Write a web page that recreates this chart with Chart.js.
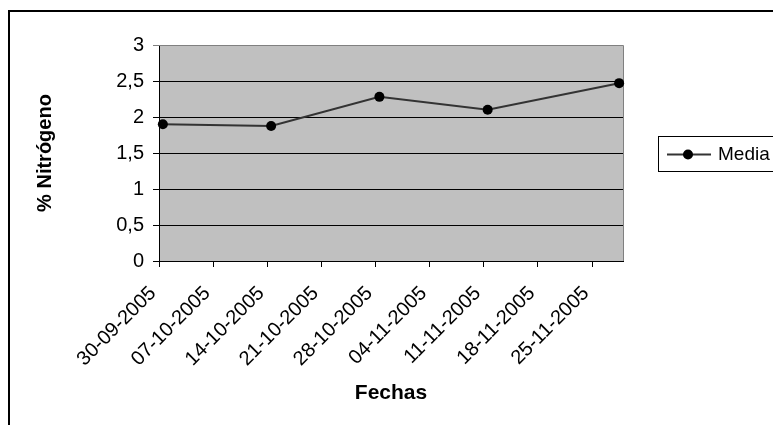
<!DOCTYPE html>
<html>
<head>
<meta charset="utf-8">
<script src="https://cdn.jsdelivr.net/npm/chart.js@4/dist/chart.umd.min.js"></script>
<style>
  html, body { margin: 0; padding: 0; background: #ffffff; }
  #wrap { width: 773px; height: 425px; position: relative; }
</style>
</head>
<body>
<div id="wrap"><canvas id="c" width="773" height="425"></canvas></div>
<script>
// ---- data ----
const seriesName = 'Media';
const sampleDates = ['30-09-2005', '14-10-2005', '28-10-2005', '11-11-2005', '28-11-2005'];
const mediaValues = [1.90, 1.875, 2.28, 2.10, 2.47];
const xTickLabels = ['30-09-2005', '07-10-2005', '14-10-2005', '21-10-2005', '28-10-2005',
                     '04-11-2005', '11-11-2005', '18-11-2005', '25-11-2005'];
const yTickValues = [0, 0.5, 1, 1.5, 2, 2.5, 3];
const xAxisTitle = 'Fechas';
const yAxisTitle = '% Nitrógeno';

// date helpers (days since first date of the axis)
function parseDMY(s) { const [d, m, y] = s.split('-').map(Number); return Date.UTC(y, m - 1, d); }
const origin = parseDMY(xTickLabels[0]);
const dayOf = s => Math.round((parseDMY(s) - origin) / 86400000);
// points sit in the middle of their day slot (Excel date axis)
const points = sampleDates.map((d, i) => ({ x: dayOf(d) + 0.5, y: mediaValues[i] }));
const xTickDays = xTickLabels.map(dayOf);
const labelByDay = {};
xTickLabels.forEach(l => { labelByDay[dayOf(l)] = l; });

const FONT = "'Liberation Sans', Arial, sans-serif";
const X_LABEL_SHIFT = -6; // rotated labels end slightly left of their tick

const decor = {
  id: 'decor',
  beforeDraw(chart) {
    const { ctx, chartArea: a } = chart;
    ctx.save();
    ctx.fillStyle = '#C0C0C0';
    ctx.fillRect(a.left, a.top, a.right - a.left, a.bottom - a.top);
    ctx.restore();
  },
  beforeDatasetsDraw(chart) {
    const { ctx, chartArea: a } = chart;
    ctx.save();
    ctx.strokeStyle = '#808080';
    ctx.lineWidth = 1;
    ctx.beginPath();
    ctx.moveTo(a.left, a.top + 0.5);
    ctx.lineTo(a.right + 0.5, a.top + 0.5);
    ctx.lineTo(a.right + 0.5, a.bottom);
    ctx.stroke();
    ctx.restore();
  },
  afterDraw(chart) {
    const { ctx } = chart;
    ctx.save();
    // outer frame (top and left edges)
    ctx.strokeStyle = '#000';
    ctx.lineWidth = 2;
    ctx.beginPath();
    ctx.moveTo(773, 11);
    ctx.lineTo(9, 11);
    ctx.lineTo(9, 425);
    ctx.stroke();
    // legend
    const ds = chart.data.datasets[0];
    ctx.lineWidth = 1;
    ctx.strokeStyle = '#000';
    ctx.fillStyle = '#fff';
    ctx.fillRect(658.5, 136.5, 200, 35);
    ctx.strokeRect(658.5, 136.5, 200, 35);
    ctx.strokeStyle = ds.borderColor;
    ctx.lineWidth = 2;
    ctx.beginPath();
    ctx.moveTo(667, 154.5);
    ctx.lineTo(711, 154.5);
    ctx.stroke();
    ctx.fillStyle = '#000';
    ctx.beginPath();
    ctx.arc(688, 154.5, 5, 0, Math.PI * 2);
    ctx.fill();
    ctx.font = '19px ' + FONT;
    ctx.textBaseline = 'middle';
    ctx.textAlign = 'left';
    ctx.fillText(ds.label, 718, 155);
    ctx.restore();
  }
};

new Chart(document.getElementById('c'), {
  type: 'line',
  data: {
    datasets: [{
      label: seriesName,
      data: points,
      borderColor: '#333333',
      borderWidth: 2,
      pointRadius: 5,
      pointHoverRadius: 5,
      pointBackgroundColor: '#000',
      pointBorderColor: '#000',
      pointBorderWidth: 0,
      tension: 0,
      fill: false,
      clip: false
    }]
  },
  options: {
    responsive: false,
    animation: false,
    events: [],
    layout: { padding: { left: 0, top: 45, right: 150, bottom: 0 } },
    plugins: { legend: { display: false }, tooltip: { enabled: false } },
    scales: {
      x: {
        type: 'linear',
        min: 0,
        max: 60,
        afterBuildTicks(scale) { scale.ticks = xTickDays.map(v => ({ value: v })); },
        afterFit(scale) { scale.height = 164; },
        afterUpdate(scale) {
          if (scale.__labelShiftWrapped) return;
          const orig = scale._computeLabelItems;
          if (typeof orig !== 'function') return;
          scale._computeLabelItems = function (area) {
            const items = orig.call(this, area);
            items.forEach(it => { if (it.options && it.options.translation) it.options.translation[0] += X_LABEL_SHIFT; });
            return items;
          };
          scale.__labelShiftWrapped = true;
        },
        ticks: {
          autoSkip: false,
          minRotation: 45,
          maxRotation: 45,
          padding: 20,
          color: '#000',
          font: { family: FONT, size: 20, lineHeight: 0.45 },
          callback: v => labelByDay[v] || ''
        },
        grid: {
          display: true,
          drawOnChartArea: false,
          drawTicks: true,
          tickLength: 6,
          color: '#000',
          lineWidth: 1
        },
        border: { display: true, color: '#000', width: 1 },
        title: {
          display: true,
          text: xAxisTitle,
          color: '#000',
          font: { family: FONT, size: 21, weight: 'bold' },
          padding: { top: 0, bottom: 19 }
        }
      },
      y: {
        type: 'linear',
        min: 0,
        max: 3,
        afterBuildTicks(scale) { scale.ticks = yTickValues.map(v => ({ value: v })); },
        afterFit(scale) { scale.width = 159; },
        ticks: {
          padding: 9,
          color: '#000',
          font: { family: FONT, size: 20 },
          callback: v => String(v).replace('.', ',')
        },
        grid: {
          drawTicks: true,
          tickLength: 6,
          color: ctx => (ctx.tick && ctx.tick.value === 3 ? '#808080' : '#000'),
          lineWidth: 1
        },
        border: { display: true, color: '#000', width: 1 },
        title: {
          display: true,
          text: yAxisTitle,
          color: '#000',
          font: { family: FONT, size: 20, weight: 'bold' },
          padding: { top: 33, bottom: 0 }
        }
      }
    }
  },
  plugins: [decor]
});
</script>
</body>
</html>
